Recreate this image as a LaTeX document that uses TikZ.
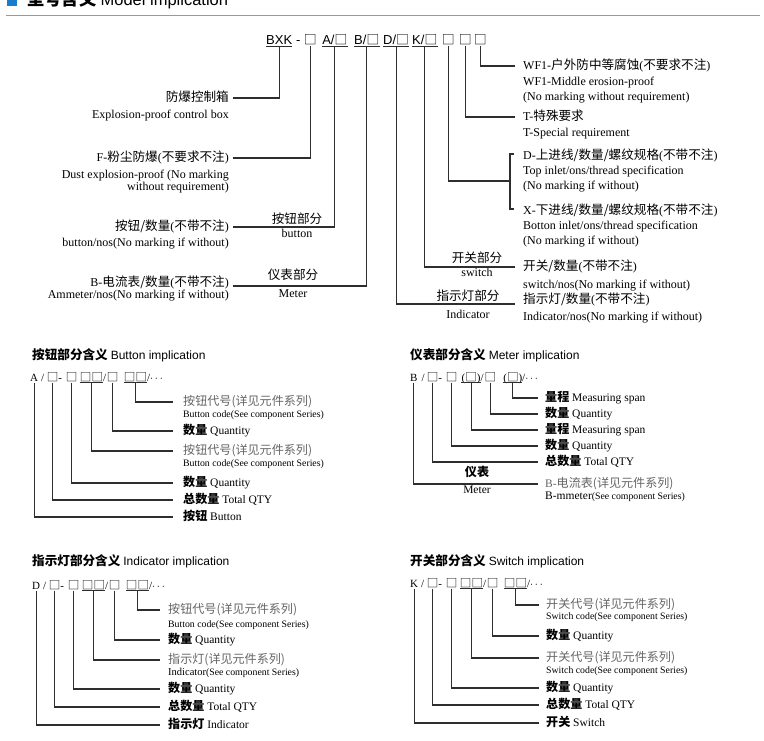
\documentclass[tikz,border=0pt]{standalone}
\usepackage{fontspec}
\setmainfont{Liberation Serif}
\newfontfamily\zhfont[Scale=1.05]{Noto Sans CJK SC}
\newfontfamily\arialfont{Liberation Sans}
\newcommand\zh[1]{{\zhfont #1}}
\newcommand\codebox[1]{{\zhfont\fontsize{#1}{#1}\selectfont □}}
\usetikzlibrary{matrix}
\definecolor{hdrblue}{RGB}{25,125,205}
\definecolor{lblgray}{RGB}{100,100,100}
\tikzset{
	conn/.style={draw=black!82, line width=1.1pt},
	uline/.style={draw=black!82, line width=0.8pt},
	lbl/.style={inner sep=0pt, text height=9pt, text depth=2pt},
	tw/.style={lbl, anchor=west, font=\fontsize{12}{14}\selectfont},
	te/.style={tw, anchor=east},
	tc/.style={tw, anchor=center},
	lw/.style={lbl, anchor=west, font=\fontsize{11.5}{13}\selectfont},
	lc/.style={lw, anchor=center},
	sub/.style={lw, font=\fontsize{9.8}{11}\selectfont},
	grey/.style={lw, text=lblgray},
	code/.style={matrix of nodes, anchor=west, inner sep=0pt, column sep=0pt,
		nodes={inner sep=0pt, text height=9pt, text depth=2pt, font=\fontsize{11}{13}\selectfont}},
}
\begin{document}
\begin{tikzpicture}[x=1pt, y=-1pt]
\useasboundingbox (0,0) rectangle (764,740);
% header
\fill[hdrblue] (7,-4) rectangle (17,6);
\node[anchor=base west, inner sep=0pt, font=\fontsize{16.5}{18}\selectfont] (hdr) at (27,5) {\zh{\bfseries 型号含义} \arialfont Model implication};
\draw[black!40, line width=1.3pt] (6,15.5) -- (760,15.5);

% model code
\matrix (mtop) [code, nodes={font=\arialfont\fontsize{13}{15}\selectfont, text height=10pt, text depth=3pt}] at (266,41)
{ BXK &[4pt] - &[3.3pt] \codebox{12.2} &[5.6pt] A/\codebox{12.2} &[6.9pt] B/\codebox{12.2} &[3.9pt] D/\codebox{12.2} &[3.2pt] K/\codebox{12.2} &[4.5pt] \codebox{12.2} &[4.2pt] \codebox{12.2} &[2.2pt] \codebox{12.2} \\ };
\foreach \c in {1,4,5,6,7}
	\draw[uline] ([yshift=-1.5pt]mtop-1-\c.base west) -- ([yshift=-1.5pt]mtop-1-\c.base east);

% left labels
\node[te] (bxkcn) at (229,98) {\zh{防爆控制箱}};
\node[te] (bxken) at (229,115) {Explosion-proof control box};
\node[te] (fcn) at (229,158) {F-\zh{粉尘防爆}(\zh{不要求不注})};
\node[te] (fen1) at (229,175) {Dust explosion-proof (No marking};
\node[te] (fen2) at (229,187) {without requirement)};
\node[te] (btncn) at (229,227) {\zh{按钮/数量}(\zh{不带不注})};
\node[te] (btnen) at (229,243) {button/nos(No marking if without)};
\node[te] (mtrcn) at (229,283) {B-\zh{电流表/数量}(\zh{不带不注})};
\node[te] (mtren) at (229,295) {Ammeter/nos(No marking if without)};
\node[tc] (btnpt) at (297,220) {\zh{按钮部分}};
\node[tc] (btnpten) at (297,234) {button};
\node[tc] (mtrpt) at (293,276) {\zh{仪表部分}};
\node[tc] (mtrpten) at (293,294) {Meter};

% right labels
\node[tw] (wfcn) at (523,66) {WF1-\zh{户外防中等腐蚀}(\zh{不要求不注})};
\node[tw] (wfen1) at (523,82) {WF1-Middle erosion-proof};
\node[tw] (wfen2) at (523,97) {(No marking without requirement)};
\node[tw] (tcn) at (523,117) {T-\zh{特殊要求}};
\node[tw] (ten) at (523,133) {T-Special requirement};
\node[tw] (dcn) at (523,156) {D-\zh{上进线/数量/螺纹规格}(\zh{不带不注})};
\node[tw] (den1) at (523,171) {Top inlet/ons/thread specification};
\node[tw] (den2) at (523,186) {(No marking if without)};
\node[tw] (xcn) at (523,211) {X-\zh{下进线/数量/螺纹规格}(\zh{不带不注})};
\node[tw] (xen1) at (523,226) {Botton inlet/ons/thread specification};
\node[tw] (xen2) at (523,241) {(No marking if without)};
\node[tw] (kcn) at (523,267) {\zh{开关/数量}(\zh{不带不注})};
\node[tw] (ken) at (523,285) {switch/nos(No marking if without)};
\node[tw] (icn) at (523,300) {\zh{指示灯/数量}(\zh{不带不注})};
\node[tw] (ien) at (523,317) {Indicator/nos(No marking if without)};
\node[tc] (swipt) at (477,259) {\zh{开关部分}};
\node[tc] (swipten) at (477,273) {switch};
\node[tc] (indpt) at (468,297) {\zh{指示灯部分}};
\node[tc] (indpten) at (468,315) {Indicator};
\coordinate (brk) at (510,181);

\draw[conn] ([yshift=-1.5pt]mtop-1-1.base) |- ([xshift=4pt]bxkcn.east);
\draw[conn] ([yshift=-1.5pt]mtop-1-3.base) |- ([xshift=4pt]fcn.east);
\draw[conn] ([yshift=-1.5pt]mtop-1-4.base) |- ([xshift=4pt]btncn.east);
\draw[conn] ([yshift=-1.5pt]mtop-1-5.base) |- ([xshift=4pt,yshift=-3pt]mtrcn.east);
\draw[conn] ([yshift=-1.5pt]mtop-1-6.base) |- ([xshift=-8pt,yshift=-4pt]icn.west);
\draw[conn] ([yshift=-1.5pt]mtop-1-7.base) |- ([xshift=-8pt]kcn.west);
\draw[conn] ([yshift=-1.5pt]mtop-1-8.base) |- (brk);
\draw[conn] ([xshift=-9pt,yshift=2pt]dcn.west) -- ++(-4,0) |- ([xshift=-9pt,yshift=2pt]xcn.west);
\draw[conn] ([yshift=-1.5pt]mtop-1-9.base) |- ([xshift=-8pt]tcn.west);
\draw[conn] ([yshift=-1.5pt]mtop-1-10.base) |- ([xshift=-8pt]wfcn.west);

% button implication
\node[lw, font=\fontsize{12}{14}\selectfont] (ttlbtn) at (32,356) {\zh{\bfseries 按钮部分含义} \arialfont Button implication};
\matrix (mbtn) [code] at (30,377.5)
{ A &[3pt] / &[2.7pt] \codebox{11} & - &[3.8pt] \codebox{11} &[2.5pt] \codebox{11}\codebox{11} & / &[0.8pt] \codebox{11} &[5.5pt] \codebox{11}\codebox{11} & /$\cdots$ \\ };
\node[grey] (btnl1) at (183,402) {\zh{按钮代号(详见元件系列)}};
\node[sub] (btns1) at (183,414) {Button code(See component Series)};
\node[lw] (btnl2) at (183,431) {\zh{\bfseries 数量} Quantity};
\node[grey] (btnl3) at (183,451) {\zh{按钮代号(详见元件系列)}};
\node[sub] (btns3) at (183,463) {Button code(See component Series)};
\node[lw] (btnl4) at (183,483) {\zh{\bfseries 数量} Quantity};
\node[lw] (btnl5) at (183,500) {\zh{\bfseries 总数量} Total QTY};
\node[lw] (btnl6) at (183,517) {\zh{\bfseries 按钮} Button};
\foreach \c/\l in {9/btnl1,8/btnl2,6/btnl3,5/btnl4,3/btnl5,1/btnl6}
	\draw[conn] ([yshift=-1.5pt]mbtn-1-\c.base) |- ([xshift=-10pt]\l.west);

% meter implication
\node[lw, font=\fontsize{12}{14}\selectfont] (ttlmtr) at (410,356) {\zh{\bfseries 仪表部分含义} \arialfont Meter implication};
\matrix (mmtr) [code] at (410,377.5)
{ B &[4pt] / &[2.3pt] \codebox{11} & - &[3.8pt] \codebox{11} &[4.2pt] (\codebox{11}) & / &[1pt] \codebox{11} &[7.2pt] (\codebox{11}) & /$\cdots$ \\ };
\node[lw] (mtrl1) at (545,398) {\zh{\bfseries 量程} Measuring span};
\node[lw] (mtrl2) at (545,414) {\zh{\bfseries 数量} Quantity};
\node[lw] (mtrl3) at (545,430) {\zh{\bfseries 量程} Measuring span};
\node[lw] (mtrl4) at (545,446) {\zh{\bfseries 数量} Quantity};
\node[lw] (mtrl5) at (545,462) {\zh{\bfseries 总数量} Total QTY};
\node[grey] (mtrl6) at (545,484) {B-\zh{电流表(详见元件系列)}};
\node[sub] (mtrs6) at (545,496) {{\fontsize{11.5}{13}\selectfont B-mmeter}(See component Series)};
\node[lc] (mtrbt) at (477,473) {\zh{\bfseries 仪表}};
\node[lc] (mtrbten) at (477,490) {Meter};
\foreach \c/\l in {9/mtrl1,8/mtrl2,6/mtrl3,5/mtrl4,3/mtrl5,1/mtrl6}
	\draw[conn] ([yshift=-1.5pt]mmtr-1-\c.base) |- ([xshift=-7pt]\l.west);

% indicator implication
\node[lw, font=\fontsize{12}{14}\selectfont] (ttlind) at (32,562) {\zh{\bfseries 指示灯部分含义} \arialfont Indicator implication};
\matrix (mind) [code] at (32,585.5)
{ D &[3pt] / &[2.7pt] \codebox{11} & - &[3.8pt] \codebox{11} &[2.5pt] \codebox{11}\codebox{11} & / &[0.8pt] \codebox{11} &[5.5pt] \codebox{11}\codebox{11} & /$\cdots$ \\ };
\node[grey] (indl1) at (168,610) {\zh{按钮代号(详见元件系列)}};
\node[sub] (inds1) at (168,624) {Button code(See component Series)};
\node[lw] (indl2) at (168,640) {\zh{\bfseries 数量} Quantity};
\node[grey] (indl3) at (168,660) {\zh{指示灯(详见元件系列)}};
\node[sub] (inds3) at (168,672) {{\fontsize{10.5}{12}\selectfont Indicator}(See component Series)};
\node[lw] (indl4) at (168,689) {\zh{\bfseries 数量} Quantity};
\node[lw] (indl5) at (168,707) {\zh{\bfseries 总数量} Total QTY};
\node[lw] (indl6) at (168,725) {\zh{\bfseries 指示灯} Indicator};
\foreach \c/\l in {9/indl1,8/indl2,6/indl3,5/indl4,3/indl5,1/indl6}
	\draw[conn] ([yshift=-1.5pt]mind-1-\c.base) |- ([xshift=-8pt]\l.west);

% switch implication
\node[lw, font=\fontsize{12}{14}\selectfont] (ttlswi) at (410,562) {\zh{\bfseries 开关部分含义} \arialfont Switch implication};
\matrix (mswi) [code] at (410,583.5)
{ K &[3pt] / &[2.7pt] \codebox{11} & - &[3.8pt] \codebox{11} &[2.5pt] \codebox{11}\codebox{11} & / &[0.8pt] \codebox{11} &[5.5pt] \codebox{11}\codebox{11} & /$\cdots$ \\ };
\node[grey] (swil1) at (546,605) {\zh{开关代号(详见元件系列)}};
\node[sub] (swis1) at (546,616) {Switch code(See component Series)};
\node[lw] (swil2) at (546,636) {\zh{\bfseries 数量} Quantity};
\node[grey] (swil3) at (546,658) {\zh{开关代号(详见元件系列)}};
\node[sub] (swis3) at (546,670) {Switch code(See component Series)};
\node[lw] (swil4) at (546,688) {\zh{\bfseries 数量} Quantity};
\node[lw] (swil5) at (546,705) {\zh{\bfseries 总数量} Total QTY};
\node[lw] (swil6) at (546,723) {\zh{\bfseries 开关} Switch};
\foreach \c/\l in {9/swil1,8/swil2,6/swil3,5/swil4,3/swil5,1/swil6}
	\draw[conn] ([yshift=-1.5pt]mswi-1-\c.base) |- ([xshift=-7pt]\l.west);

\foreach \m in {mbtn,mmtr,mind,mswi}
	\foreach \c in {6,9}
		\draw[uline] ([yshift=-1.5pt]\m-1-\c.base west) -- ([yshift=-1.5pt]\m-1-\c.base east);
\end{tikzpicture}
\end{document}
